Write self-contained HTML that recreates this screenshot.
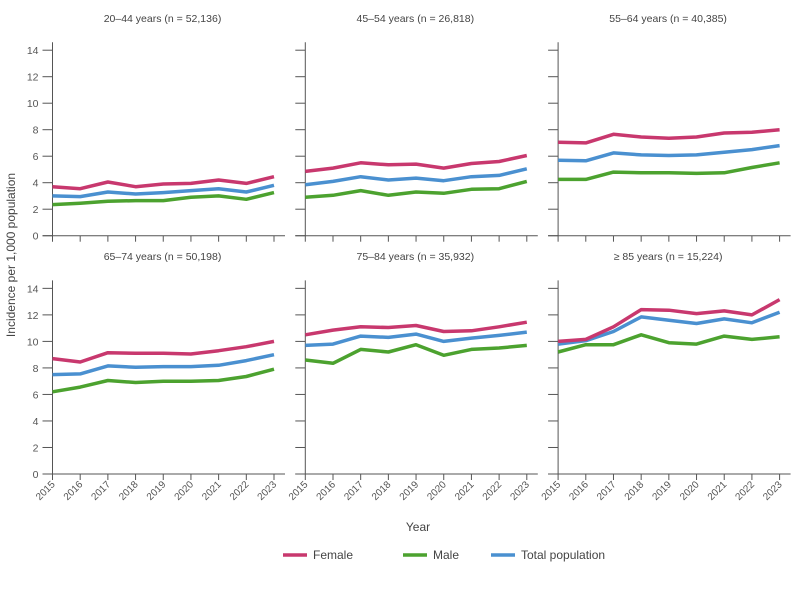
<!DOCTYPE html>
<html><head><meta charset="utf-8"><style>
body{margin:0;background:#fff;}
svg{display:block;font-family:"Liberation Sans",sans-serif;}
</style></head><body>
<svg id="chart" width="800" height="598"></svg>
<script>
const years=[2015,2016,2017,2018,2019,2020,2021,2022,2023];
const yTicks=[0,2,4,6,8,10,12,14];
const panelTitles=["20–44  years  (n = 52,136)","45–54  years  (n = 26,818)","55–64  years  (n = 40,385)","65–74  years  (n = 50,198)","75–84  years  (n = 35,932)","≥ 85  years  (n = 15,224)"];
const female=[[3.7,3.55,4.05,3.7,3.9,3.95,4.2,3.95,4.45],[4.85,5.1,5.5,5.35,5.4,5.1,5.45,5.6,6.05],[7.05,7.0,7.65,7.45,7.35,7.45,7.75,7.8,8.0],[8.7,8.45,9.15,9.1,9.1,9.05,9.3,9.6,10.0],[10.5,10.85,11.1,11.05,11.2,10.75,10.8,11.1,11.45],[10.0,10.15,11.1,12.4,12.35,12.1,12.3,12.0,13.15]];
const male=[[2.35,2.45,2.6,2.65,2.65,2.9,3.0,2.75,3.25],[2.9,3.05,3.4,3.05,3.3,3.2,3.5,3.55,4.1],[4.25,4.25,4.8,4.75,4.75,4.7,4.75,5.15,5.5],[6.2,6.55,7.05,6.9,7.0,7.0,7.05,7.35,7.9],[8.6,8.35,9.4,9.2,9.75,8.95,9.4,9.5,9.7],[9.2,9.75,9.75,10.5,9.9,9.8,10.4,10.15,10.35]];
const total=[[3.0,2.95,3.3,3.15,3.25,3.4,3.55,3.3,3.8],[3.85,4.1,4.45,4.2,4.35,4.15,4.45,4.55,5.05],[5.7,5.65,6.25,6.1,6.05,6.1,6.3,6.5,6.8],[7.5,7.55,8.15,8.05,8.1,8.1,8.2,8.55,9.0],[9.7,9.8,10.4,10.3,10.55,10.0,10.25,10.45,10.7],[9.8,10.05,10.75,11.85,11.6,11.35,11.7,11.4,12.2]];
const seriesNames=["female","male","total"];
const colors={female:"#c8386e",male:"#4ca22f",total:"#4a90d0"};
const NS="http://www.w3.org/2000/svg";
const svg=document.getElementById('chart');
function mk(tag,attrs,parent,text){const e=document.createElementNS(NS,tag);for(const k in attrs)e.setAttribute(k,attrs[k]);if(text!==undefined)e.textContent=text;(parent||svg).appendChild(e);return e;}
const gray="#555";
for(let p=0;p<6;p++){
  const col=p%3,row=Math.floor(p/3);
  const x0=52.5+col*252.8, x1=x0+221.5;
  const y0=row?474:235.7, unit=row?13.26:13.25;
  const X=i=>x0+(x1-x0)*i/(years.length-1);
  const Y=v=>y0-v*unit;
  const g=mk('g',{});
  
  
  const t=mk('text',{x:x0+110,y:row?260:22,'text-anchor':'middle','font-size':10.5,fill:'#444'},g,panelTitles[p]);
  
  
  mk('line',{x1:x0,y1:Y(14)-8,x2:x0,y2:y0,stroke:gray,'stroke-width':1},g);
  mk('line',{x1:x0-10,y1:y0,x2:x1+11,y2:y0,stroke:gray,'stroke-width':1},g);
  yTicks.forEach(v=>{
    mk('line',{x1:x0-10,y1:Y(v),x2:x0,y2:Y(v),stroke:gray,'stroke-width':1},g);
    if(col===0){const tl=mk('text',{x:x0-14,y:Y(v)+4,'text-anchor':'end','font-size':10.5,fill:'#555'},g,String(v));
      
      }
  });
  years.forEach((yr,i)=>{
    mk('line',{x1:X(i),y1:y0,x2:X(i),y2:y0+6,stroke:gray,'stroke-width':1},g);
    if(row===1){const tl=mk('text',{x:X(i)+3,y:y0+11,'text-anchor':'end','font-size':10,fill:'#555',transform:`rotate(-45 ${X(i)+3} ${y0+11})`},g,String(yr));
      
      }
  });
  const data={female:female[p],male:male[p],total:total[p]};
  ["male","total","female"].forEach(s=>{
    const pts=data[s].map((v,i)=>X(i).toFixed(1)+','+Y(v).toFixed(1)).join(' ');
    const pl=mk('polyline',{points:pts,fill:'none',stroke:colors[s],'stroke-width':3.5,'stroke-linejoin':'round'},g);
    
    
  });
}
const yt=mk('text',{x:15,y:255,'text-anchor':'middle','font-size':12,fill:'#444',transform:'rotate(-90 15 255)'},svg,'Incidence per 1,000 population');


const xt=mk('text',{x:418,y:531,'text-anchor':'middle','font-size':12,fill:'#444'},svg,'Year');


const legend=[["female","Female",283],["male","Male",403],["total","Total population",491]];
legend.forEach(([k,label,lx])=>{
  const lg=mk('g',{});
  
  
  mk('line',{x1:lx,y1:555,x2:lx+24,y2:555,stroke:colors[k],'stroke-width':3.5},lg);
  mk('text',{x:lx+30,y:559,'font-size':12,fill:'#444'},lg,label);
});
</script>
</body></html>
